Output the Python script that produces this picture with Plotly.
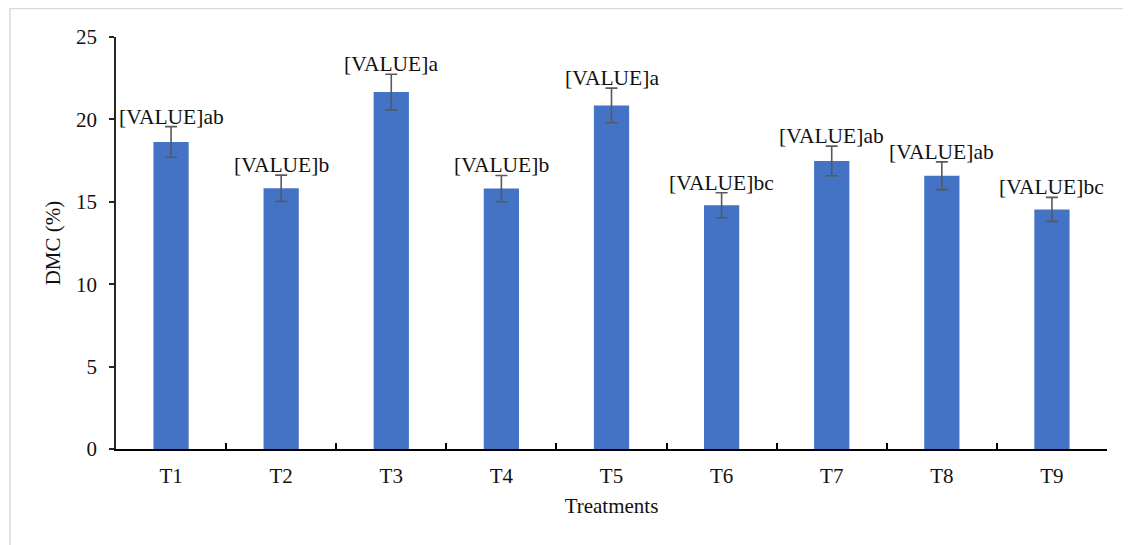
import plotly.graph_objects as go

# data
treatments = ["T1", "T2", "T3", "T4", "T5", "T6", "T7", "T8", "T9"]
dmc_mean = [18.63, 15.82, 21.66, 15.80, 20.85, 14.79, 17.48, 16.58, 14.54]
dmc_err = [0.93, 0.80, 1.08, 0.80, 1.05, 0.76, 0.90, 0.84, 0.73]
letters = ["ab", "b", "a", "b", "a", "bc", "ab", "ab", "bc"]

FONT = "Liberation Serif"
BAR_COLOR = "#4472C4"

fig = go.Figure()

fig.add_trace(go.Bar(
    x=treatments,
    y=dmc_mean,
    marker=dict(color=BAR_COLOR, line=dict(width=0)),
    error_y=dict(type="data", array=dmc_err, visible=True,
                 color="#595959", thickness=1.6, width=6),
    showlegend=False,
))

# significance labels sitting on top of the error bars
for t, m, e, l in zip(treatments, dmc_mean, dmc_err, letters):
    fig.add_annotation(
        x=t, y=m + e,
        text=f"[VALUE]{l}",
        showarrow=False,
        yanchor="bottom",
        yshift=-4,
        font=dict(family=FONT, size=21.5, color="#111111"),
    )

# light frame around the chart area (clipped at right/bottom in the reference)
fig.add_shape(
    type="rect", xref="paper", yref="paper",
    x0=-0.107, x1=1.1, y0=-0.4, y1=1.069,
    line=dict(color="#d9d9d9", width=1.5),
    layer="below",
)

# the page body adds an 8px offset, so the figure is 8px smaller
fig.update_layout(
    width=1123,
    height=537,
    margin=dict(l=108, r=24, t=29, b=96),
    plot_bgcolor="white",
    paper_bgcolor="white",
    bargap=0.68,
    font=dict(family=FONT, size=21, color="#111111"),
)

fig.update_xaxes(
    showline=True, linecolor="#000000", linewidth=2,
    ticks="inside", ticklen=6, tickwidth=1.5, tickcolor="#000000",
    tickson="boundaries",
    ticklabelstandoff=7,
    showgrid=False,
    title=dict(text="Treatments", font=dict(family=FONT, size=21), standoff=11),
)

fig.update_yaxes(
    range=[0, 25], dtick=5,
    showline=True, linecolor="#262626", linewidth=1.5,
    ticks="outside", ticklen=5, tickwidth=1.5, tickcolor="#262626",
    ticklabelstandoff=8,
    showgrid=False, zeroline=False,
    title=dict(text="DMC (%)", font=dict(family=FONT, size=21), standoff=10),
)

fig.write_html("out.html")
